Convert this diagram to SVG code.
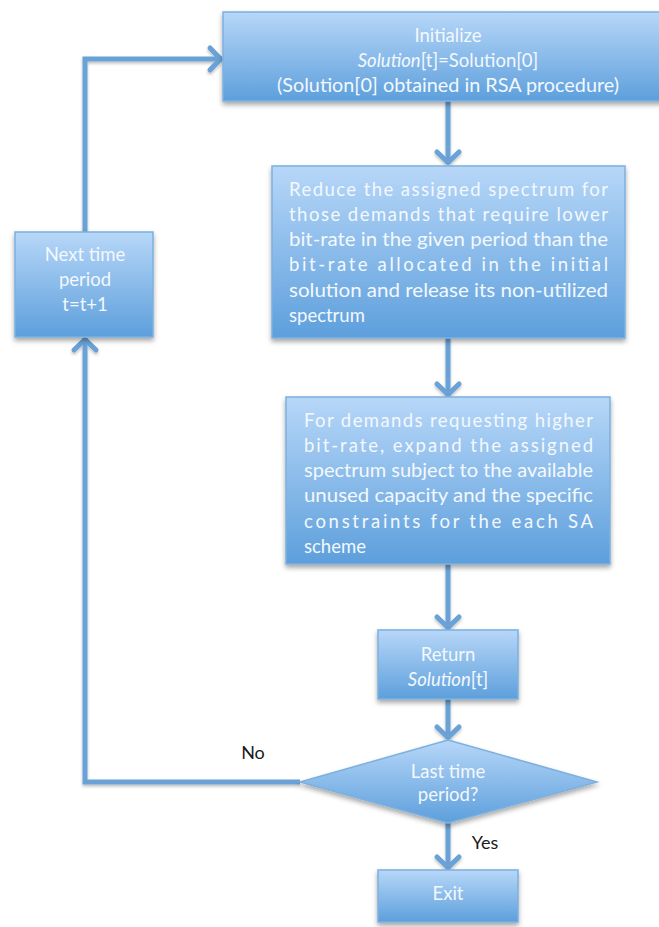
<svg xmlns="http://www.w3.org/2000/svg" width="659" height="927" viewBox="0 0 659 927">
  <defs>
    <linearGradient id="fill" x1="0" y1="0" x2="0" y2="1">
      <stop offset="0" stop-color="#b7d7f8"/>
      <stop offset="1" stop-color="#5d9fdc"/>
    </linearGradient>
    <filter id="shadow" x="-10%" y="-10%" width="120%" height="130%">
      <feDropShadow dx="0" dy="3" stdDeviation="2.5" flood-color="#000" flood-opacity="0.35"/>
    </filter>
    <!-- user-space region so straight vertical/horizontal strokes keep their shadow -->
    <filter id="lineshadow" filterUnits="userSpaceOnUse" x="0" y="0" width="659" height="927">
      <feDropShadow dx="0" dy="2" stdDeviation="1.5" flood-color="#000" flood-opacity="0.25"/>
    </filter>
    <marker id="arrow" markerUnits="userSpaceOnUse" markerWidth="30" markerHeight="30" viewBox="-16 -15 20 30" refX="0" refY="0" orient="auto">
      <path d="M-12,-11 L-1.5,0 L-12,11" fill="none" stroke="#6aa1d6" stroke-width="5" stroke-linecap="round" stroke-linejoin="round"/>
    </marker>
  </defs>
  <style>
    .box { fill: url(#fill); stroke: #7cb0df; stroke-width: 1.5; filter: url(#shadow); }
    .t { font-family: Lato, "Open Sans", "Liberation Sans", sans-serif; font-size: 18.5px; fill: #f3f8fd; }
    .c { text-anchor: middle; }
    .lbl { font-family: Lato, "Open Sans", "Liberation Sans", sans-serif; font-size: 18px; fill: #1a1a1a; text-anchor: middle; }
    .conn { fill: none; stroke: #6aa1d6; stroke-width: 5; filter: url(#lineshadow); }
    .i { font-style: italic; }
  </style>

  <!-- connectors -->
  <g id="connectors">
    <path class="conn" d="M448,101 V164" marker-end="url(#arrow)"/>
    <path class="conn" d="M448,338 V396" marker-end="url(#arrow)"/>
    <path class="conn" d="M448,564 V629" marker-end="url(#arrow)"/>
    <path class="conn" d="M448,699 V739" marker-end="url(#arrow)"/>
    <path class="conn" d="M448,823 V869" marker-end="url(#arrow)"/>
    <path class="conn" d="M300,782 H85 V338" marker-end="url(#arrow)"/>
    <path class="conn" d="M85,232 V59 H222" marker-end="url(#arrow)"/>
  </g>

  <!-- initialize -->
  <g id="init">
    <rect class="box" x="223" y="12" width="450" height="89"/>
    <text class="t c" x="448" y="42">Initialize</text>
    <text class="t c" x="448" y="67"><tspan class="i">Solution</tspan>[t]=Solution[0]</text>
    <text class="t c" x="448" y="92" textLength="342" lengthAdjust="spacingAndGlyphs">(Solution[0] obtained in RSA procedure)</text>
  </g>

  <!-- reduce spectrum -->
  <g id="reduce">
    <rect class="box" x="272" y="166" width="353" height="172"/>
    <text class="t" x="289" y="196" textLength="319" lengthAdjust="spacing">Reduce the assigned spectrum for</text>
    <text class="t" x="289" y="221" textLength="319" lengthAdjust="spacing">those demands that require lower</text>
    <text class="t" x="289" y="246" textLength="319" lengthAdjust="spacingAndGlyphs">bit-rate in the given period than the</text>
    <text class="t" x="289" y="271" textLength="319" lengthAdjust="spacing">bit-rate allocated in the initial</text>
    <text class="t" x="289" y="297" textLength="319" lengthAdjust="spacingAndGlyphs">solution and release its non-utilized</text>
    <text class="t" x="289" y="322">spectrum</text>
  </g>

  <!-- expand spectrum -->
  <g id="expand">
    <rect class="box" x="286" y="397" width="324" height="167"/>
    <text class="t" x="304" y="427" textLength="289" lengthAdjust="spacing">For demands requesting higher</text>
    <text class="t" x="304" y="452" textLength="289" lengthAdjust="spacing">bit-rate, expand the assigned</text>
    <text class="t" x="304" y="477" textLength="289" lengthAdjust="spacingAndGlyphs">spectrum subject to the available</text>
    <text class="t" x="304" y="502" textLength="289" lengthAdjust="spacingAndGlyphs">unused capacity and the specific</text>
    <text class="t" x="304" y="528" textLength="289" lengthAdjust="spacing">constraints for the each SA</text>
    <text class="t" x="304" y="553">scheme</text>
  </g>

  <!-- return solution -->
  <g id="return">
    <rect class="box" x="378" y="630" width="140" height="69"/>
    <text class="t c" x="448" y="661">Return</text>
    <text class="t c" x="448" y="686"><tspan class="i">Solution</tspan>[t]</text>
  </g>

  <!-- decision -->
  <g id="decision">
    <polygon class="box" points="448,740 597,782 448,823 300,782"/>
    <text class="t c" x="448" y="778">Last time</text>
    <text class="t c" x="448" y="801">period?</text>
  </g>

  <!-- exit -->
  <g id="exit">
    <rect class="box" x="378" y="870" width="140" height="52"/>
    <text class="t c" x="448" y="900">Exit</text>
  </g>

  <!-- next period -->
  <g id="next">
    <rect class="box" x="15" y="232" width="138" height="105"/>
    <text class="t c" x="85" y="261">Next time</text>
    <text class="t c" x="85" y="286">period</text>
    <text class="t c" x="85" y="311">t=t+1</text>
  </g>

  <!-- branch labels -->
  <g id="labels">
    <text class="lbl" x="253" y="759">No</text>
    <text class="lbl" x="485" y="849">Yes</text>
  </g>
</svg>
